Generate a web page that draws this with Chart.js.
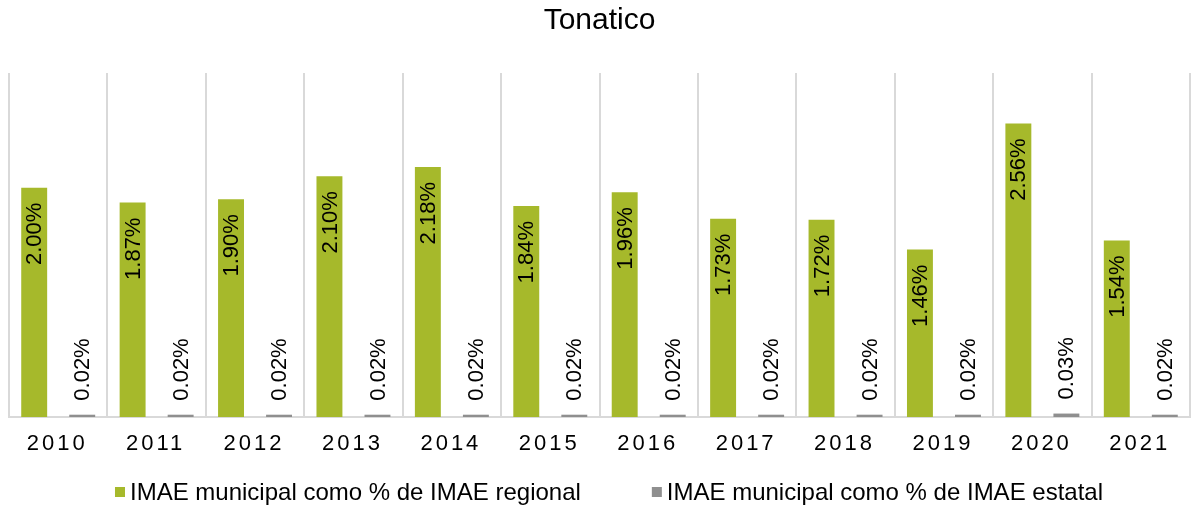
<!DOCTYPE html>
<html>
<head>
<meta charset="utf-8">
<script src="https://cdn.jsdelivr.net/npm/chart.js@4"></script>
<style>
  html, body { margin: 0; padding: 0; background: #fff; }
  #wrap { width: 1198px; height: 507px; }
</style>
</head>
<body>
<div id="wrap"><canvas id="imaeChart" width="1198" height="507"></canvas></div>
<script>
    // Data
    const years = ['2010', '2011', '2012', '2013', '2014', '2015', '2016', '2017', '2018', '2019', '2020', '2021'];
    const regionalShare = [2.00, 1.87, 1.90, 2.10, 2.18, 1.84, 1.96, 1.73, 1.72, 1.46, 2.56, 1.54];
    const stateShare = [0.02, 0.02, 0.02, 0.02, 0.02, 0.02, 0.02, 0.02, 0.02, 0.02, 0.03, 0.02];
    const seriesNames = ['IMAE municipal como % de IMAE regional', 'IMAE municipal como % de IMAE estatal'];

    const FONT = '"Liberation Sans", Arial, sans-serif';

    // rotated value labels: inside the top of the green bars, above the gray ones
    const barLabels = {
        id: 'barLabels',
        afterDatasetsDraw(chart) {
            const ctx = chart.ctx;
            ctx.save();
            ctx.font = '22px ' + FONT;
            ctx.fillStyle = '#000';
            ctx.textBaseline = 'middle';
            chart.data.datasets.forEach((ds, di) => {
                chart.getDatasetMeta(di).data.forEach((bar, i) => {
                    const txt = ds.data[i].toFixed(2) + '%';
                    ctx.save();
                    ctx.translate(bar.x, bar.y);
                    ctx.rotate(-Math.PI / 2);
                    if (di === 0) {
                        ctx.textAlign = 'right';
                        ctx.fillText(txt, -15, 1);
                    } else {
                        ctx.textAlign = 'left';
                        ctx.fillText(txt, 14, 1);
                    }
                    ctx.restore();
                });
            });
            ctx.restore();
        }
    };

    // spaced year labels + legend at the bottom
    const bottomText = {
        id: 'bottomText',
        afterDraw(chart) {
            const ctx = chart.ctx;
            const xs = chart.scales.x;
            ctx.save();
            ctx.fillStyle = '#000';
            ctx.font = '22px ' + FONT;
            ctx.textAlign = 'center';
            ctx.textBaseline = 'middle';
            ctx.letterSpacing = '3px';
            chart.data.labels.forEach((lab, i) => {
                ctx.fillText(lab, xs.getPixelForTick(i) - 1, 444);
            });
            ctx.letterSpacing = '0px';

            // legend
            ctx.font = '24px ' + FONT;
            ctx.textAlign = 'left';
            const box = 10, gapBox = 5, gapItem = 71;
            const widths = chart.data.datasets.map(d => ctx.measureText(d.label).width);
            const total = widths.reduce((a, w) => a + box + gapBox + w, 0) + gapItem;
            let x = chart.width / 2 - total / 2 + 10;
            const y = 492;
            chart.data.datasets.forEach((d, i) => {
                ctx.fillStyle = d.backgroundColor;
                ctx.fillRect(x, y - box / 2, box, box);
                ctx.fillStyle = '#000';
                ctx.fillText(d.label, x + box + gapBox, y + 1);
                x += box + gapBox + widths[i] + gapItem;
            });
            ctx.restore();
        }
    };

    const ctx = document.getElementById('imaeChart').getContext('2d');

    const myChart = new Chart(ctx, {
        type: 'bar',
        data: {
            labels: years,
            datasets: [{
                label: seriesNames[0],
                data: regionalShare,
                backgroundColor: '#a6b92b',
                categoryPercentage: 0.976,
                barPercentage: 0.54
            }, {
                label: seriesNames[1],
                data: stateShare,
                backgroundColor: '#8f8f8f',
                categoryPercentage: 0.976,
                barPercentage: 0.54
            }]
        },
        options: {
            responsive: false,
            animation: false,
            layout: {
                padding: { left: 9, right: 8, top: 0, bottom: 38 }
            },
            plugins: {
                legend: { display: false },
                tooltip: { enabled: false },
                title: {
                    display: true,
                    text: 'Tonatico',
                    color: '#000',
                    font: { family: FONT, size: 30, weight: 'normal' },
                    padding: { top: 3, bottom: 34 }
                }
            },
            scales: {
                x: {
                    grid: {
                        color: '#d9d9d9',
                        lineWidth: 2,
                        drawTicks: false
                    },
                    border: { color: '#d9d9d9', width: 2 },
                    ticks: {
                        color: 'transparent',
                        font: { family: FONT, size: 20 },
                        padding: 14
                    }
                },
                y: {
                    display: false,
                    min: 0,
                    max: 3
                }
            }
        },
        plugins: [barLabels, bottomText]
    });
</script>
</body>
</html>
